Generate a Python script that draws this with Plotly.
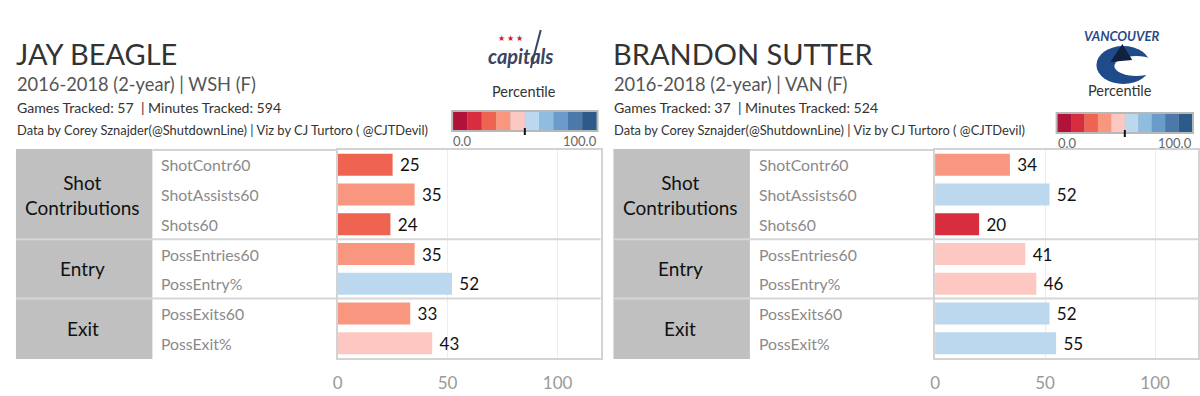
import plotly.graph_objects as go

W, H = 1200, 396
FONT = "Lato"

# ---------------- data ----------------
metrics = ["ShotContr60", "ShotAssists60", "Shots60", "PossEntries60",
           "PossEntry%", "PossExits60", "PossExit%"]
groups = ["Shot<br>Contributions", "Entry", "Exit"]
group_sizes = [3, 2, 2]

players = ["JAY BEAGLE", "BRANDON SUTTER"]
subtitles = ["2016-2018 (2-year) | WSH (F)", "2016-2018 (2-year) | VAN (F)"]
tracked = ["Games Tracked: 57  | Minutes Tracked: 594",
           "Games Tracked: 37  | Minutes Tracked: 524"]
credit = "Data by Corey Sznajder(@ShutdownLine) | Viz by CJ Turtoro ( @CJTDevil)"

beagle = [25, 35, 24, 35, 52, 33, 43]
sutter = [34, 52, 20, 41, 46, 52, 55]
values = [beagle, sutter]

palette = ["#b0123a", "#d82d3e", "#ef6451", "#f9967f", "#fdc8c1",
           "#bbd8ee", "#8fbde0", "#6a9bca", "#4b79aa", "#2c5a8a"]
x_ticks = [0, 50, 100]
legend_labels = ["0.0", "100.0"]


def X(px):
    return px / W


def Y(py):
    return 1 - py / H


def color_for(v):
    idx = max(0, min(9, -(-v // 10) - 1))
    return palette[int(idx)]


fig = go.Figure()
shapes = []
annotations = []

panel_offsets = [0, 600]
for p, off in enumerate(panel_offsets):
    ax = "" if p == 0 else "2"
    vals = values[p]
    fig.add_trace(go.Bar(
        x=vals, y=metrics, orientation="h",
        marker=dict(color=[color_for(v) for v in vals], line=dict(width=0)),
        width=0.74,
        texttemplate=" %{x}", textposition="outside",
        textfont=dict(family=FONT, size=17, color="#111"),
        constraintext="none", cliponaxis=False,
        hoverinfo="skip",
        xaxis="x" + ax, yaxis="y" + ax, showlegend=False,
    ))

    xdom = [X(334 + off), X(598 + off)]
    ydom = [Y(358), Y(150)]
    fig.layout["xaxis" + ax] = dict(
        domain=xdom, range=[0, 119.5], anchor="y" + ax,
        tickvals=x_ticks, ticks="", showgrid=True, gridcolor="#ececec", gridwidth=1,
        zeroline=False, showline=True, mirror=True, linecolor="#d3d3d3", linewidth=2,
        tickfont=dict(family=FONT, size=17, color="#9a9a9a"),
        ticklabelstandoff=9, fixedrange=True,
    )
    fig.layout["yaxis" + ax] = dict(
        domain=ydom, anchor="x" + ax, type="category",
        categoryorder="array", categoryarray=metrics, autorange="reversed",
        range=[6.5, -0.5], showticklabels=False, ticks="", showgrid=False,
        showline=True, mirror=True, linecolor="#d3d3d3", linewidth=2,
        fixedrange=True,
    )

    # grey group block
    shapes.append(dict(type="rect", xref="paper", yref="paper",
                       x0=X(11 + off), x1=X(148 + off), y0=Y(359), y1=Y(149),
                       fillcolor="#c0c0c0", line=dict(width=0), layer="below"))
    # top border over label column
    shapes.append(dict(type="line", xref="paper", yref="paper",
                       x0=X(148 + off), x1=X(334 + off), y0=Y(150), y1=Y(150),
                       line=dict(color="#d3d3d3", width=2)))
    # group separators and group labels
    start = 0
    for g, n in zip(groups, group_sizes):
        end = start + n
        if end < len(metrics):
            ysep = end - 0.5
            shapes.append(dict(type="line", xref="paper", yref="y" + ax,
                               x0=X(11 + off), x1=X(598 + off), y0=ysep, y1=ysep,
                               line=dict(color="#d6d6d6", width=2)))
        annotations.append(dict(
            text=g, xref="paper", yref="y" + ax, x=X(78 + off), y=(start + end - 1) / 2,
            xanchor="center", yanchor="middle", showarrow=False,
            font=dict(family=FONT, size=19, color="#111"), align="center"))
        start = end
    # metric labels
    for m in metrics:
        annotations.append(dict(
            text=m, xref="paper", yref="y" + ax, x=X(155 + off), y=m,
            xanchor="left", yanchor="middle", showarrow=False,
            font=dict(family=FONT, size=15.8, color="#8a8a8a")))

    # header
    annotations += [
        dict(text=players[p], x=X(9 + off), y=Y(53), font=dict(size=29, color="#333")),
        dict(text=subtitles[p], x=X(10 + off), y=Y(84), font=dict(size=18.3, color="#555")),
        dict(text=tracked[p], x=X(10 + off), y=Y(107), font=dict(size=14.1, color="#333")),
        dict(text=credit, x=X(10 + off), y=Y(130), font=dict(size=12.9, color="#333")),
    ]
    for a in annotations[-4:]:
        a.update(xref="paper", yref="paper", xanchor="left", yanchor="middle",
                 showarrow=False)
        a["font"]["family"] = FONT

# ---------------- percentile legends ----------------
legends = [dict(x0=448, x1=596, y0=110, y1=132, title_x=521, title_y=92),
           dict(x0=1055, x1=1194, y0=112, y1=134, title_x=1120, title_y=90)]
for lg in legends:
    n = len(palette)
    seg = (lg["x1"] - lg["x0"] - 4) / n
    shapes.append(dict(type="rect", xref="paper", yref="paper",
                       x0=X(lg["x0"]), x1=X(lg["x1"]), y0=Y(lg["y1"]), y1=Y(lg["y0"]),
                       fillcolor="#b8b8b8", line=dict(width=0)))
    for i, c in enumerate(palette):
        shapes.append(dict(type="rect", xref="paper", yref="paper",
                           x0=X(lg["x0"] + 2 + i * seg), x1=X(lg["x0"] + 2 + (i + 1) * seg),
                           y0=Y(lg["y1"] - 2), y1=Y(lg["y0"] + 2),
                           fillcolor=c, line=dict(width=0)))
    mid = (lg["x0"] + lg["x1"]) / 2
    shapes.append(dict(type="line", xref="paper", yref="paper",
                       x0=X(mid), x1=X(mid), y0=Y(lg["y1"] + 3), y1=Y(lg["y1"] - 4),
                       line=dict(color="#111", width=2)))
    annotations += [
        dict(text="Percentile", x=X(lg["title_x"]), y=Y(lg["title_y"]), xanchor="center",
             font=dict(family=FONT, size=14.5, color="#333")),
        dict(text=legend_labels[0], x=X(lg["x0"]), y=Y(lg["y1"] + 9), xanchor="left",
             font=dict(family=FONT, size=13, color="#666")),
        dict(text=legend_labels[1], x=X(lg["x1"]), y=Y(lg["y1"] + 9), xanchor="right",
             font=dict(family=FONT, size=13, color="#666")),
    ]
    for a in annotations[-3:]:
        a.update(xref="paper", yref="paper", yanchor="middle", showarrow=False)

# ---------------- team marks (approximate logos) ----------------
annotations += [
    dict(text="★ ★ ★", x=X(508), y=Y(38), font=dict(family=FONT, size=8, color="#d0202f")),
    dict(text="<b><i>capitals</i></b>", x=X(518), y=Y(56),
         font=dict(family=FONT, size=20, color="#3a4463")),
    dict(text="<b><i>VANCOUVER</i></b>", x=X(1122), y=Y(36),
         font=dict(family=FONT, size=13, color="#2d4a86")),
]
for a in annotations[-3:]:
    a.update(xref="paper", yref="paper", xanchor="center", yanchor="middle", showarrow=False)
shapes.append(dict(type="line", xref="paper", yref="paper", x0=X(538), x1=X(528),
                   y0=Y(30), y1=Y(68), line=dict(color="#3a4463", width=2)))
shapes.append(dict(type="circle", xref="paper", yref="paper", x0=X(1096), x1=X(1150),
                   y0=Y(84), y1=Y(46), fillcolor="#1f4b8a", line=dict(width=0)))
shapes.append(dict(type="circle", xref="paper", yref="paper", x0=X(1114), x1=X(1158),
                   y0=Y(76), y1=Y(56), fillcolor="white", line=dict(width=0)))
shapes.append(dict(type="path", xref="paper", yref="paper",
                   path=f"M {X(1110)},{Y(62)} L {X(1122)},{Y(44)} L {X(1132)},{Y(60)} Z",
                   fillcolor="#10223f", line=dict(width=0)))

fig.update_layout(
    width=W, height=H, margin=dict(l=0, r=0, t=0, b=0),
    paper_bgcolor="white", plot_bgcolor="white",
    shapes=shapes, annotations=annotations, bargap=0.26,
    font=dict(family=FONT),
)

fig.write_html("out.html", config={"displayModeBar": False},
               post_script="document.body.style.margin='0';document.body.style.padding='0';"
                           "document.body.style.overflow='hidden';")
